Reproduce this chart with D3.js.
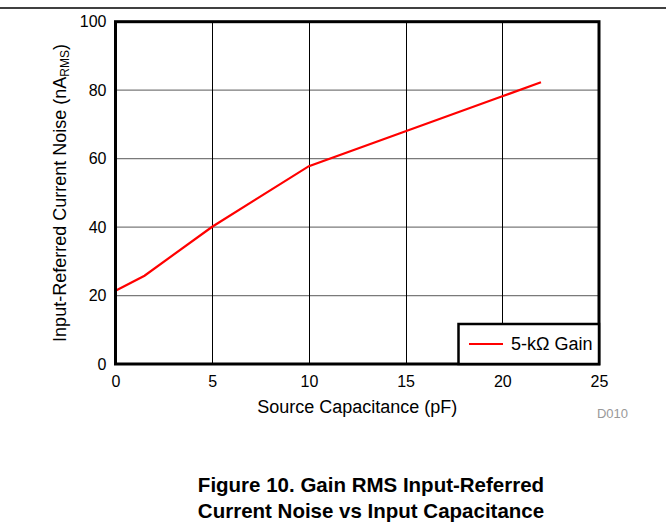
<!DOCTYPE html>
<html>
<head>
<meta charset="utf-8">
<script src="https://cdn.jsdelivr.net/npm/d3@7"></script>
<style>
  body { margin: 0; background: #fff; }
  svg { display: block; font-family: Arial, "Liberation Sans", sans-serif; }
</style>
</head>
<body>
<svg id="chart" width="666" height="529"></svg>
<script>
// data
var capacitance = [0, 1.5, 5, 10, 15, 20, 22];
var noise = [21.4, 25.8, 40.1, 57.8, 68.0, 78.2, 82.3];
var xTicks = [0, 5, 10, 15, 20, 25];
var yTicks = [0, 20, 40, 60, 80, 100];
var seriesName = "5-k\u03A9 Gain";
var captionLines = ["Figure 10. Gain RMS Input-Referred", "Current Noise vs Input Capacitance"];

var svg = d3.select("#chart");
var plotL = 115.5, plotR = 599, plotT = 21.7, plotB = 364;

var x = d3.scaleLinear().domain([0, 25]).range([plotL, plotR]);
var y = d3.scaleLinear().domain([0, 100]).range([plotB, plotT]);

// rule at the very top of the page
svg.append("line")
    .attr("x1", 0).attr("x2", 666)
    .attr("y1", 8).attr("y2", 8)
    .attr("stroke", "#000").attr("stroke-width", 1.5);

// grid
svg.append("g")
    .selectAll("line")
    .data(yTicks.slice(1, -1))
    .enter().append("line")
    .attr("x1", plotL).attr("x2", plotR)
    .attr("y1", function (d) { return y(d); })
    .attr("y2", function (d) { return y(d); })
    .attr("stroke", "#7a7a7a").attr("stroke-width", 1.2);

svg.append("g")
    .selectAll("line")
    .data(xTicks.slice(1, -1))
    .enter().append("line")
    .attr("y1", plotT).attr("y2", plotB)
    .attr("x1", function (d) { return Math.round(x(d)) + 0.5; })
    .attr("x2", function (d) { return Math.round(x(d)) + 0.5; })
    .attr("stroke", "#000").attr("stroke-width", 1);

// axes (labels only, frame drawn below)
var xAxis = svg.append("g")
    .attr("transform", "translate(0," + plotB + ")")
    .call(d3.axisBottom(x).tickValues(xTicks).tickSize(0).tickPadding(12));
var yAxis = svg.append("g")
    .attr("transform", "translate(" + plotL + ",0)")
    .call(d3.axisLeft(y).tickValues(yTicks).tickSize(0).tickPadding(9));
[xAxis, yAxis].forEach(function (g) {
    g.select(".domain").remove();
    g.selectAll("text")
        .attr("font-family", "Arial, 'Liberation Sans', sans-serif")
        .attr("font-size", 16)
        .attr("fill", "#000");
});

// line
var line = d3.line()
    .x(function (d, i) { return x(capacitance[i]); })
    .y(function (d) { return y(d); });
svg.append("path")
    .datum(noise)
    .attr("d", line)
    .attr("fill", "none")
    .attr("stroke", "#ff0000")
    .attr("stroke-width", 2.2);

// frame
svg.append("rect")
    .attr("x", plotL).attr("y", plotT)
    .attr("width", plotR - plotL).attr("height", plotB - plotT)
    .attr("fill", "none")
    .attr("stroke", "#000").attr("stroke-width", 3);

// legend
var legend = svg.append("g");
legend.append("rect")
    .attr("x", 458.5).attr("y", 324)
    .attr("width", plotR - 458.5).attr("height", plotB - 324)
    .attr("fill", "#fff")
    .attr("stroke", "#000").attr("stroke-width", 2.5);
legend.append("line")
    .attr("x1", 469).attr("x2", 503)
    .attr("y1", 344).attr("y2", 344)
    .attr("stroke", "#ff0000").attr("stroke-width", 2.2);
legend.append("text")
    .attr("x", 511).attr("y", 350)
    .attr("font-size", 18)
    .text(seriesName);

// axis titles
svg.append("text")
    .attr("x", (plotL + plotR) / 2).attr("y", 413)
    .attr("text-anchor", "middle")
    .attr("font-size", 18)
    .text("Source Capacitance (pF)");

var yTitle = svg.append("text")
    .attr("transform", "translate(66,193) rotate(-90)")
    .attr("text-anchor", "middle")
    .attr("font-size", 18);
yTitle.append("tspan").text("Input-Referred Current Noise (nA");
yTitle.append("tspan").attr("font-size", 12).attr("dy", 3).text("RMS");
yTitle.append("tspan").attr("dy", -3).text(")");

svg.append("text")
    .attr("x", 628).attr("y", 418)
    .attr("text-anchor", "end")
    .attr("font-size", 13)
    .attr("fill", "#999")
    .text("D010");

// caption
svg.append("g")
    .selectAll("text")
    .data(captionLines)
    .enter().append("text")
    .attr("x", 371)
    .attr("y", function (d, i) { return 492 + i * 26; })
    .attr("text-anchor", "middle")
    .attr("font-size", 20.5)
    .attr("font-weight", "bold")
    .text(function (d) { return d; });
</script>
</body>
</html>
